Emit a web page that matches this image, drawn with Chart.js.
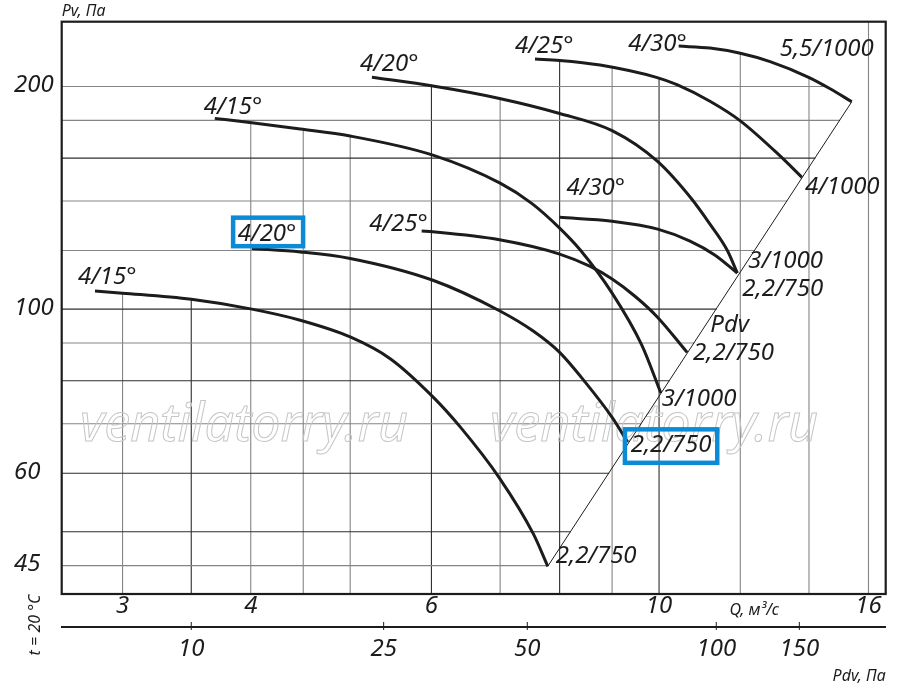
<!DOCTYPE html>
<html>
<head>
<meta charset="utf-8">
<script src="https://cdn.jsdelivr.net/npm/chart.js@4.4.1/dist/chart.umd.min.js"></script>
<style>html,body{margin:0;padding:0;background:#fff}canvas{display:block}</style>
</head>
<body>
<canvas id="c" width="900" height="689"></canvas>
<script>
// ================= DATA =================
// Axis ticks
const qTickLabels = [3, 4, 6, 10, 16];                       // Q, m3/s labels
const qGrid = [3, 3.5, 4, 4.5, 5, 6, 7, 8, 9, 10, 12, 14, 16]; // Q grid lines
const pTickLabels = [45, 60, 100, 200];                      // Pv labels
const pGrid = [45, 50, 60, 70, 80, 90, 100, 120, 140, 160, 180, 200];
const pdvTickLabels = [10, 25, 50, 100, 150];                // Pdv, Pa labels
const pdvTickQ = [3.5, 5.39, 7.44, 11.37, 13.70];            // Q where each Pdv tick sits

// Curve labels (blade angle at start, motor kW/rpm at end)
const startLabels = ['4/15°', '4/20°', '4/25°', '4/30°', '4/15°', '4/20°', '4/25°', '4/30°'];
const endLabels = ['2,2/750', '2,2/750', '2,2/750', '2,2/750', '3/1000', '3/1000', '4/1000', '5,5/1000'];

// Fan curves: Q (m3/s) and Pv (Pa)
const q1 = [2.82, 3.0, 3.5, 4.01, 4.47, 5.0, 5.47, 6.02, 6.4, 6.99, 7.54, 7.79];
const p1 = [105.8, 105.1, 103.1, 100, 96.6, 91.7, 85.7, 76.1, 69.3, 59.1, 49.7, 44.9];

const q2 = [4.01, 4.47, 5.0, 6.02, 6.99, 7.54, 8.0, 8.47, 9.0, 9.32];
const p2 = [120.8, 119.5, 117.1, 109.4, 99.5, 93.4, 87.4, 79.7, 71.4, 66.1];

const q3 = [5.87, 6.02, 6.99, 8.0, 8.57, 9.0, 9.48, 9.96, 10.65];
const p3 = [127.5, 127.2, 124.1, 118.7, 114.2, 109.8, 104.0, 97.6, 87.4];

const q4 = [8.0, 9.0, 9.97, 10.72, 11.34, 11.92];
const p4 = [133.1, 131.5, 128.3, 123.6, 118.3, 111.9];

const q5 = [3.69, 4.01, 4.47, 5.0, 6.02, 7.0, 7.52, 8.0, 8.38, 9.0, 9.62, 10.04];
const p5 = [181.1, 178.6, 175.2, 171.4, 161.5, 148.0, 138.9, 128.7, 120.2, 105.1, 89.4, 77.0];

const q6 = [5.25, 6.02, 6.99, 8.0, 9.0, 9.96, 10.76, 11.21, 11.65, 11.92];
const p6 = [205.8, 200.3, 192.7, 183.9, 174.3, 158.5, 140.9, 130.3, 120.2, 111.9];

const q7 = [7.57, 8.0, 8.76, 9.96, 10.41, 11.21, 12.0, 13.12, 13.78];
const p7 = [217.8, 216.9, 213.8, 205.6, 201.1, 191.0, 179.7, 161.1, 150.7];

const q8 = [10.45, 11.21, 12.0, 12.83, 13.99, 14.68, 15.41];
const p8 = [226.8, 225.4, 221.8, 216.1, 205.8, 198.6, 190.7];

// Dynamic pressure line (Pdv)
const qPdv = [7.79, 15.41];
const pPdv = [44.9, 190.7];

// ================= STYLE =================
const INK = '#1c1c1c';
const FAM = "'Noto Sans', 'Open Sans', sans-serif";
const curveQ = [q1, q2, q3, q4, q5, q6, q7, q8];
const curveP = [p1, p2, p3, p4, p5, p6, p7, p8];

const datasets = curveQ.map((qs, k) => ({
  data: qs.map((q, i) => ({ x: q, y: curveP[k][i] })),
  borderColor: INK, borderWidth: 3, pointRadius: 0,
  cubicInterpolationMode: 'monotone', fill: false
}));
datasets.push({
  data: qPdv.map((q, i) => ({ x: q, y: pPdv[i] })),
  borderColor: INK, borderWidth: 1, pointRadius: 0, tension: 0, fill: false
});

const labelCfg = {
  start: [
    { dx: -17, dy: -7 },
    { dx: -14, dy: -7, box: [7, 9, 26, 7] },
    { dx: 6, dy: 0, align: 'right' },
    { dx: 7, dy: -22 },
    { dx: -11, dy: -4 },
    { dx: -12, dy: -6 },
    { dx: -20, dy: -6 },
    { dx: 8, dy: 5, align: 'right' }
  ],
  end: [
    { dx: 8, dy: -3 },
    { dx: 3, dy: 10, box: [8, 8, 25, 13] },
    { dx: 6, dy: 8 },
    { dx: 5, dy: 23 },
    { dx: 1, dy: 13 },
    { dx: 11, dy: -5 },
    { dx: 3, dy: 17 },
    { dx: -72, dy: -46 }
  ]
};

const gridStyle = { darkQ: [3.5, 6, 8, 10], darkP: [50, 60, 80, 100, 160], dark: '#2e2e2e', light: '#858585', width: 1.1 };

function yAt(poly, px) {
  if (px < poly[0].x || px > poly[poly.length - 1].x) return null;
  for (let i = 0; i < poly.length - 1; i++) {
    const a = poly[i], b = poly[i + 1];
    if (px >= a.x && px <= b.x) return a.y + (b.y - a.y) * (px - a.x) / (b.x - a.x || 1);
  }
  return null;
}
function xCross(poly, py) {
  let best = null;
  for (let i = 0; i < poly.length - 1; i++) {
    const a = poly[i], b = poly[i + 1];
    if ((py - a.y) * (py - b.y) <= 0 && a.y !== b.y) {
      const xx = a.x + (b.x - a.x) * (py - a.y) / (b.y - a.y);
      if (best === null || xx > best) best = xx;
    }
  }
  return best;
}

const decor = {
  id: 'decor',
  beforeDatasetsDraw(chart) {
    const { ctx, chartArea: a, scales } = chart;
    const xs = scales.x, ys = scales.y;
    const polys = [];
    for (let i = 0; i < 8; i++) polys.push(chart.getDatasetMeta(i).data.map(p => ({ x: p.x, y: p.y })));
    const diag = chart.getDatasetMeta(8).data.map(p => ({ x: p.x, y: p.y }));
    ctx.save();
    ctx.lineWidth = gridStyle.width;
    // vertical grid: from the highest curve down to the frame
    qGrid.forEach(q => {
      const px = xs.getPixelForValue(q);
      let top = null;
      polys.forEach(p => { const v = yAt(p, px); if (v !== null && (top === null || v < top)) top = v; });
      top = top === null ? a.top : top - 1;
      ctx.strokeStyle = gridStyle.darkQ.includes(q) ? gridStyle.dark : gridStyle.light;
      ctx.beginPath(); ctx.moveTo(px, top); ctx.lineTo(px, a.bottom); ctx.stroke();
    });
    // horizontal grid: from the frame to the Pdv line (or outermost curve)
    const d0 = diag[0], d1 = diag[1];
    pGrid.forEach(p => {
      const py = ys.getPixelForValue(p);
      let right;
      if (py >= d1.y) right = d0.x + (py - d0.y) * (d1.x - d0.x) / (d1.y - d0.y);
      else {
        right = a.left;
        polys.forEach(pl => { const v = xCross(pl, py); if (v !== null && v > right) right = v; });
      }
      ctx.strokeStyle = gridStyle.darkP.includes(p) ? gridStyle.dark : gridStyle.light;
      ctx.beginPath(); ctx.moveTo(a.left, py); ctx.lineTo(right + 0.5, py); ctx.stroke();
    });
    // watermark
    ctx.strokeStyle = '#c6c6c6';
    ctx.lineWidth = 1;
    ctx.font = "italic 52px " + FAM;
    ctx.textAlign = 'left'; ctx.textBaseline = 'alphabetic';
    ctx.strokeText('ventilatorry.ru', 80, 441, 330);
    ctx.strokeText('ventilatorry.ru', 490, 441, 330);
    ctx.restore();
  },
  afterDatasetsDraw(chart) {
    const { ctx, chartArea: a } = chart;
    ctx.save();
    ctx.strokeStyle = INK; ctx.lineWidth = 2.2;
    ctx.strokeRect(a.left, a.top, a.right - a.left, a.bottom - a.top);
    ctx.restore();
  },
  afterDraw(chart) {
    const { ctx, chartArea: a, scales } = chart;
    ctx.save();
    // Pdv axis tick marks crossing the axis line
    const x2 = scales.x2;
    ctx.strokeStyle = INK; ctx.lineWidth = 1;
    x2.ticks.forEach(t => {
      const px = x2.getPixelForValue(t.value);
      ctx.beginPath(); ctx.moveTo(px, x2.top - 5); ctx.lineTo(px, x2.top + 3); ctx.stroke();
    });
    ctx.fillStyle = INK;
    ctx.textBaseline = 'alphabetic';
    ctx.font = "italic 24px " + FAM;
    const drawLab = (txt, pt, cfg) => {
      const tx = pt.x + cfg.dx, ty = pt.y + cfg.dy;
      ctx.textAlign = cfg.align || 'left';
      ctx.fillStyle = INK;
      ctx.fillText(txt, tx, ty);
      if (cfg.box) {
        const w = ctx.measureText(txt).width;
        const [l, r, t, b] = cfg.box;
        const left = tx - l, right = tx + w + r, top = ty - t, bottom = ty + b;
        const lw = 4.5;
        ctx.strokeStyle = '#0b8ad6'; ctx.lineWidth = lw;
        ctx.strokeRect(left + lw / 2, top + lw / 2, right - left - lw, bottom - top - lw);
      }
    };
    for (let i = 0; i < 8; i++) {
      const pts = chart.getDatasetMeta(i).data;
      drawLab(startLabels[i], pts[0], labelCfg.start[i]);
      drawLab(endLabels[i], pts[pts.length - 1], labelCfg.end[i]);
    }
    // Pdv line label
    const dg = chart.getDatasetMeta(8).data;
    const t = 0.505;
    const lx = dg[0].x + (dg[1].x - dg[0].x) * t, ly = dg[0].y + (dg[1].y - dg[0].y) * t;
    ctx.textAlign = 'left'; ctx.fillStyle = INK;
    ctx.fillText('Pdv', lx + 9, ly);
    // axis captions
    ctx.font = "italic 16px " + FAM;
    ctx.fillText('Pv, Па', a.left, 16);
    ctx.fillText('Q, м³/с', scales.x.getPixelForValue(11.71), 615);
    ctx.translate(35, 625);
    ctx.rotate(-Math.PI / 2);
    ctx.textAlign = 'center'; ctx.textBaseline = 'middle';
    ctx.fillText('t = 20 °C', 0, 0);
    ctx.restore();
  }
};

const QMIN = 2.617, QMAX = 16.63, PMIN = 41.19, PMAX = 244.7;
const tickFont = { family: FAM, size: 24, style: 'italic', lineHeight: 1 };

new Chart(document.getElementById('c'), {
  type: 'line',
  data: { datasets },
  plugins: [decor],
  options: {
    responsive: false,
    animation: false,
    devicePixelRatio: 1,
    layout: { padding: { left: 14, right: 14.3, top: 21.7, bottom: 0 } },
    plugins: { legend: { display: false }, tooltip: { enabled: false } },
    scales: {
      x: {
        type: 'logarithmic', position: 'bottom', weight: 0, min: QMIN, max: QMAX,
        grid: { display: false, drawTicks: false }, border: { display: false },
        afterBuildTicks: s => { s.ticks = qTickLabels.map(v => ({ value: v })); },
        ticks: { autoSkip: false, maxRotation: 0, padding: 0, font: tickFont, color: INK, callback: v => String(v) },
        afterFit: s => { s.height = 33; }
      },
      x2: {
        type: 'logarithmic', position: 'bottom', weight: 1, min: QMIN, max: QMAX,
        grid: { display: false, drawOnChartArea: false, drawTicks: false },
        border: { display: true, color: INK, width: 2 },
        afterBuildTicks: s => { s.ticks = pdvTickQ.map(v => ({ value: v })); },
        ticks: { autoSkip: false, maxRotation: 0, padding: 10, font: tickFont, color: INK, callback: (v, i) => String(pdvTickLabels[i]) },
        title: { display: true, text: 'Pdv, Па', align: 'end', color: INK, font: { family: FAM, size: 16, style: 'italic', lineHeight: 1 }, padding: { top: 0, bottom: 5 } },
        afterFit: s => { s.height = 62; }
      },
      y: {
        type: 'logarithmic', position: 'left', min: PMIN, max: PMAX,
        grid: { display: false, drawTicks: false }, border: { display: false },
        afterBuildTicks: s => { s.ticks = pGrid.map(v => ({ value: v })); },
        ticks: { autoSkip: false, crossAlign: 'far', padding: 0, labelOffset: -1, font: tickFont, color: INK,
                 callback: v => pTickLabels.includes(v) ? String(v) : '' },
        afterFit: s => { s.width = 47.7; }
      }
    }
  }
});
</script>
</body>
</html>
